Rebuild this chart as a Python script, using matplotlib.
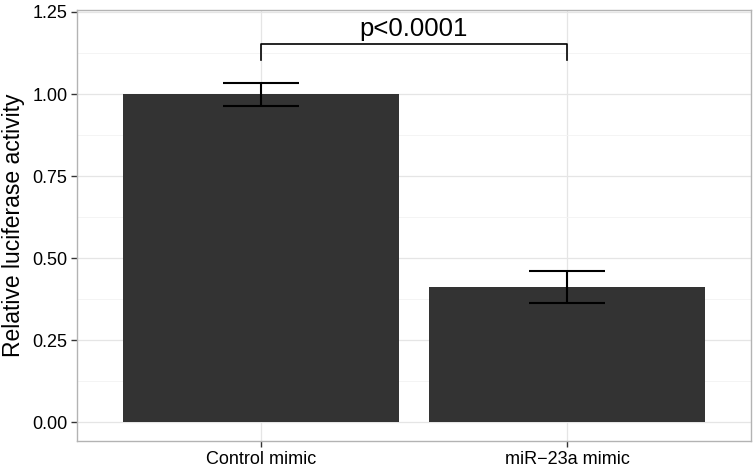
import numpy as np
import matplotlib.pyplot as plt
from matplotlib.ticker import MultipleLocator

groups = ["Control mimic", "miR\u221223a mimic"]
activity = [1.00, 0.412]
err = [0.035, 0.049]
p_label = "p<0.0001"
bracket_y = 1.151
bracket_leg = 1.103

plt.rcParams["font.family"] = ["Liberation Sans", "DejaVu Sans"]

fig = plt.figure(figsize=(7.56, 4.75), dpi=100)
ax = fig.add_axes([77 / 756, 1 - 441 / 475, 674 / 756, 431 / 475])

x = np.arange(1, len(groups) + 1)
ax.bar(x, activity, width=0.9, color="#333333", zorder=2)
ax.errorbar(x, activity, yerr=err, fmt="none", ecolor="black",
            elinewidth=1.5, capsize=27.5, capthick=1.5, zorder=3)

# significance bracket
ax.plot([x[0], x[0], x[1], x[1]], [bracket_leg, bracket_y, bracket_y, bracket_leg],
        color="black", lw=1.2, zorder=3)
ax.text(x.mean(), bracket_y + 0.012, p_label, ha="center", va="bottom", fontsize=18.5)

ax.set_xlim(0.4, 2.6)
ax.set_xticks(x)
ax.set_xticklabels(groups)
ax.yaxis.set_major_locator(MultipleLocator(0.25))
ax.yaxis.set_minor_locator(MultipleLocator(0.125))
ax.set_ylim(-0.057, 1.256)
ax.set_yticks([0, 0.25, 0.5, 0.75, 1.0, 1.25])
ax.set_yticklabels(["0.00", "0.25", "0.50", "0.75", "1.00", "1.25"])

ax.grid(True, which="major", color="#e5e5e5", lw=0.9, zorder=0)
ax.grid(True, which="minor", axis="y", color="#f3f3f3", lw=0.6, zorder=0)
ax.set_axisbelow(True)
ax.tick_params(which="minor", length=0)
ax.tick_params(which="major", length=4, width=1, color="#333333",
               labelsize=13, labelcolor="black", pad=3)
for s in ax.spines.values():
    s.set_color("#b3b3b3")
    s.set_linewidth(1)

ax.set_ylabel("Relative luciferase activity", fontsize=16.5, labelpad=5)

fig.savefig("out.png", dpi=100)
